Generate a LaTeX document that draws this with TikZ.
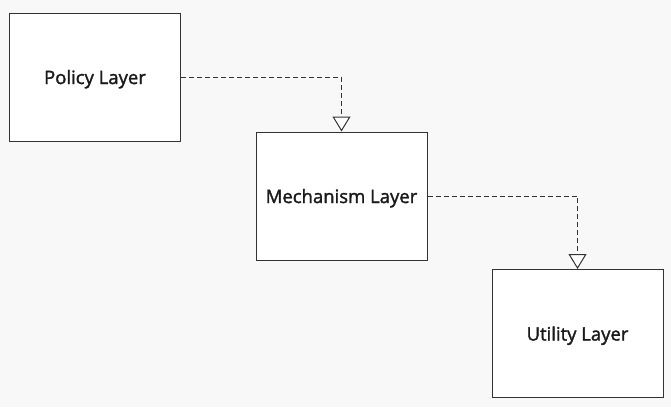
\documentclass[tikz,border=0pt]{standalone}
\usepackage{fontspec}
\setmainfont{Open Sans}
\newfontfamily\labelfont[BoldFont={Open Sans},BoldFeatures={FakeBold=1.6}]{Open Sans}
\usetikzlibrary{arrows.meta}
\definecolor{bgcol}{HTML}{F8F8F8}
\definecolor{linecol}{HTML}{333333}
\definecolor{textcol}{HTML}{1A1A1A}
\tikzset{layerbox/.style={draw=linecol,fill=white,line width=1pt,minimum width=171pt,minimum height=128pt,inner sep=0pt,text depth=0pt,text=textcol,font=\labelfont\bfseries\fontsize{18.5}{22}\selectfont},
dep/.style={draw=linecol,line width=1pt,dash pattern=on 5pt off 3pt,-{Triangle[width=18pt,length=15pt,fill=white,line width=1pt]}}}
\begin{document}
\begin{tikzpicture}[x=1pt,y=-1pt]
\fill[bgcol](0,0)rectangle(671,407);
\useasboundingbox(0,0)rectangle(671,407);
\draw(95,77)node[layerbox](policy){Policy Layer}
(341.5,196)node[layerbox](mech){Mechanism Layer}
(577.5,333.5)node[layerbox](util){Utility Layer};
\draw[dep](policy.east) -| (mech.north);
\draw[dep](mech.east) -| (util.north);
\end{tikzpicture}
\end{document}
